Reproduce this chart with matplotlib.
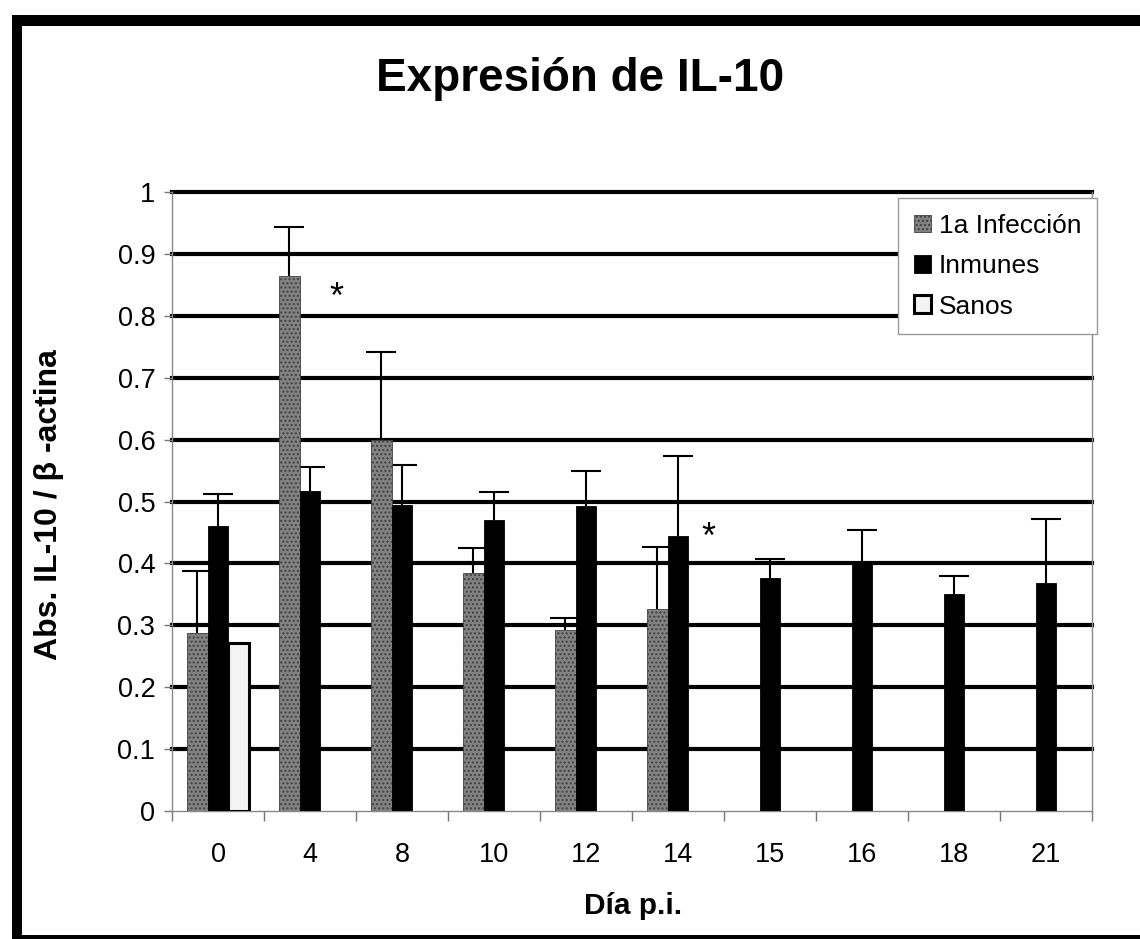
import numpy as np
import matplotlib
matplotlib.use("Agg")
import matplotlib.pyplot as plt
from matplotlib.patches import Rectangle

plt.rcParams['font.family'] = ['Liberation Sans', 'DejaVu Sans']

# Days post-infection (categories)
days = ["0", "4", "8", "10", "12", "14", "15", "16", "18", "21"]

# Mean expression ratios (NaN = no measurement)
primera = [0.288, 0.865, 0.600, 0.385, 0.292, 0.326, np.nan, np.nan, np.nan, np.nan]
inmunes = [0.460, 0.517, 0.494, 0.470, 0.492, 0.445, 0.376, 0.401, 0.351, 0.369]
sanos = [0.272, np.nan, np.nan, np.nan, np.nan, np.nan, np.nan, np.nan, np.nan, np.nan]

# Upper error (standard deviation)
primera_err = [0.100, 0.079, 0.141, 0.040, 0.020, 0.100, np.nan, np.nan, np.nan, np.nan]
inmunes_err = [0.052, 0.039, 0.065, 0.046, 0.057, 0.129, 0.031, 0.053, 0.028, 0.103]

W, H = 1140, 939
fig = plt.figure(figsize=(W / 100, H / 100), dpi=100)
fig.patch.set_facecolor("white")

ax = fig.add_axes([172 / W, 1 - 811 / H, (1092 - 172) / W, (811 - 192) / H])

x = np.arange(len(days))
w = 0.228

err_kw = dict(ecolor="black", elinewidth=1.5, capsize=11, capthick=1.5)


def upper_errorbar(xpos, vals, err):
    e = np.array(err, dtype=float)
    yerr = np.vstack([np.zeros_like(e), e])
    _, caps, _ = ax.errorbar(xpos, vals, yerr=yerr, fmt="none", zorder=2,
                             **err_kw)
    # keep only the upper cap
    caps[0].set_visible(False)


b1 = ax.bar(x - w, primera, w, color="#828282", edgecolor="#404040",
            linewidth=0.6, hatch="....", label="1a Infección", zorder=3)
upper_errorbar(x - w, primera, primera_err)

b2 = ax.bar(x, inmunes, w, color="black", edgecolor="black", linewidth=0.6,
            label="Inmunes", zorder=3)
upper_errorbar(x, inmunes, inmunes_err)

b3 = ax.bar(x + w, sanos, w, color="#f3f3f3", edgecolor="black",
            linewidth=2.2, label="Sanos", zorder=3)

# Significance marks
ax.text(1.29, 0.812, "*", fontsize=26, ha="center", va="baseline", zorder=5)
ax.text(5.33, 0.425, "*", fontsize=26, ha="center", va="baseline", zorder=5)

ax.set_xlim(-0.5, len(days) - 0.5)
ax.set_ylim(0, 1)

yt = np.round(np.arange(0, 1.01, 0.1), 1)
ax.set_yticks(yt)
ax.set_yticklabels(["0"] + [f"{v:.1f}" for v in yt[1:-1]] + ["1"])
ax.yaxis.grid(True, color="black", linewidth=3.0, zorder=1)
ax.set_axisbelow(True)
for gl in ax.get_ygridlines():
    gl.set_clip_on(False)
ax.get_ygridlines()[0].set_visible(False)

ax.set_xticks(x)
ax.set_xticklabels(days)
ax.set_xticks(np.arange(-0.5, len(days), 1.0), minor=True)
ax.tick_params(axis="x", which="major", length=0, pad=22, labelsize=19.5)
ax.tick_params(axis="x", which="minor", length=7, width=1, color="#777777",
               direction="out")
ax.tick_params(axis="y", which="major", length=6, width=1, color="#777777",
               pad=6, labelsize=19.5)

for side in ["left", "bottom", "right"]:
    ax.spines[side].set_color("#888888")
    ax.spines[side].set_linewidth(1.0)
ax.spines["top"].set_visible(False)

leg = ax.legend(handles=[b1, b2, b3], loc="upper right",
                bbox_to_anchor=(1097 / W, 1 - 198 / H),
                bbox_transform=fig.transFigure, fontsize=19,
                frameon=True, fancybox=False, shadow=False, framealpha=1,
                handlelength=0.65, handleheight=0.65, handletextpad=0.3,
                labelspacing=0.62, borderpad=0.6, borderaxespad=0)
leg.get_frame().set_edgecolor("#999999")
leg.get_frame().set_linewidth(1.0)
leg.set_zorder(6)

fig.text(580 / W, 1 - 79 / H, "Expresión de IL-10", fontsize=33,
         fontweight="bold", ha="center", va="center")
fig.text(633 / W, 1 - 906 / H, "Día p.i.", fontsize=21.5,
         fontweight="bold", ha="center", va="center")
fig.text(49 / W, 1 - 505 / H, "Abs. IL-10 / β -actina", fontsize=23,
         fontweight="bold", ha="center", va="center", rotation=90)

# Thick frame around the figure
for (x0, y0, x1, y1) in [(12, 15, 22, 939), (12, 15, 1140, 26),
                         (12, 935, 1140, 939)]:
    fig.patches.append(Rectangle((x0 / W, 1 - y1 / H), (x1 - x0) / W,
                                 (y1 - y0) / H, transform=fig.transFigure,
                                 facecolor="black", edgecolor="none"))

fig.savefig("out.png", dpi=100, facecolor="white")
